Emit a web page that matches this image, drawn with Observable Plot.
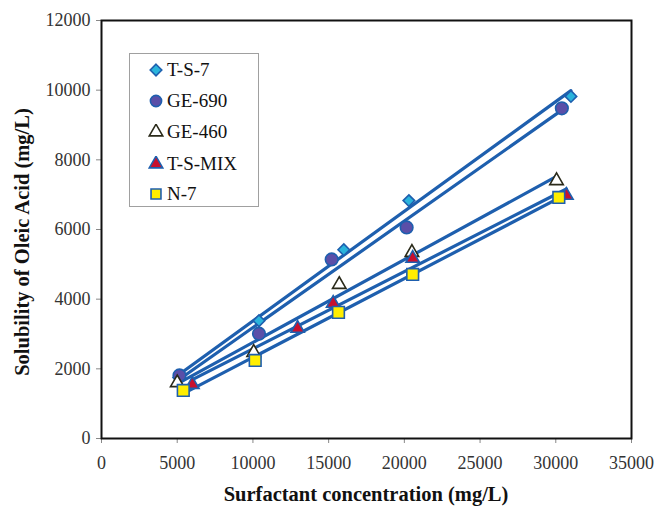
<!DOCTYPE html>
<html>
<head>
<meta charset="utf-8">
<script src="https://cdn.jsdelivr.net/npm/d3@7"></script>
<script src="https://cdn.jsdelivr.net/npm/@observablehq/plot@0.6"></script>
<style>
  html, body { margin: 0; padding: 0; background: #fff; }
  #wrap { position: relative; width: 655px; height: 506px; font-family: "Liberation Serif", "Times New Roman", serif; }
  #legend { position: absolute; left: 129px; top: 53px; width: 130px; height: 154px; border: 1px solid #a0a0a0; background: #fff; box-sizing: border-box; }
  .entry { position: absolute; left: 0; height: 22px; display: flex; align-items: center; font-size: 19px; color: #111; white-space: nowrap; }
  .entry svg { margin-left: 18px; margin-right: 3px; }
  .title { position: absolute; font-weight: bold; font-size: 20.5px; color: #111; white-space: nowrap; line-height: 1; }
</style>
</head>
<body>
<div id="wrap"></div>
<script>
const seriesNames = ["T-S-7", "GE-690", "GE-460", "T-S-MIX", "N-7"];
const xTS7 = [5100, 10400, 16000, 20300, 31000];
const yTS7 = [1750, 3380, 5420, 6830, 9820];
const xGE690 = [5150, 10400, 15200, 20150, 30400];
const yGE690 = [1810, 3010, 5140, 6060, 9480];
const xGE460 = [5000, 10050, 15700, 20500, 30050];
const yGE460 = [1600, 2470, 4420, 5340, 7400];
const xTSMIX = [6000, 12950, 15300, 20550, 30700];
const yTSMIX = [1550, 3160, 3880, 5170, 6980];
const xN7 = [5400, 10150, 15650, 20550, 30200];
const yN7 = [1380, 2240, 3620, 4710, 6920];
const xTicks = [0, 5000, 10000, 15000, 20000, 25000, 30000, 35000];
const yTicks = [0, 2000, 4000, 6000, 8000, 10000, 12000];

const lineColor = "#1e5fae";
const styles = {
  "T-S-7":   {symbol: "diamond2", fill: "#2ab4dc", stroke: lineColor, r: 5.2},
  "GE-690":  {symbol: "circle",   fill: "#5a4fa8", stroke: lineColor, r: 6.3},
  "GE-460":  {symbol: "triangle", fill: "#ffffff", stroke: "#2a2a1a", r: 5},
  "T-S-MIX": {symbol: "triangle", fill: "#c8102e", stroke: lineColor, r: 5},
  "N-7":     {symbol: "square",   fill: "#ffee00", stroke: lineColor, r: 6.6}
};

const xs = [xTS7, xGE690, xGE460, xTSMIX, xN7];
const ys = [yTS7, yGE690, yGE460, yTSMIX, yN7];
const data = [];
seriesNames.forEach((s, i) => xs[i].forEach((x, j) => data.push({series: s, x, y: ys[i][j]})));

const fmt = d3.format("d");
const marks = [
  Plot.axisX({ticks: xTicks, tickFormat: fmt, tickSize: 5, tickPadding: 13, fontSize: 18, label: null, stroke: "#888", color: "#333"}),
  Plot.axisY({ticks: yTicks, tickFormat: fmt, tickSize: 5, tickPadding: 6, fontSize: 18, label: null, stroke: "#888", color: "#333"}),
  Plot.linearRegressionY(data, {x: "x", y: "y", z: "series", stroke: lineColor, strokeWidth: 3.2, ci: 0})
];
seriesNames.forEach(s => {
  const st = styles[s];
  marks.push(Plot.dot(data.filter(d => d.series === s), {x: "x", y: "y", symbol: () => st.symbol, r: st.r, fill: st.fill, stroke: st.stroke, strokeWidth: 1.6}));
});
marks.push(Plot.frame({stroke: "#111", strokeWidth: 2}));

const chart = Plot.plot({
  width: 655, height: 506,
  marginLeft: 101, marginRight: 24, marginTop: 20, marginBottom: 68,
  style: {fontFamily: "Liberation Serif, Times New Roman, serif", fontSize: "18px", background: "#fff"},
  x: {domain: [0, 35000]},
  y: {domain: [0, 12000]},
  symbol: {type: "identity"},
  marks
});
const wrap = document.getElementById("wrap");
wrap.appendChild(chart);

// axis titles
const xt = document.createElement("div");
xt.className = "title";
xt.textContent = "Surfactant concentration (mg/L)";
xt.style.left = "366px"; xt.style.top = "494px"; xt.style.transform = "translate(-50%,-50%)";
wrap.appendChild(xt);
const yt = document.createElement("div");
yt.className = "title";
yt.textContent = "Solubility of Oleic Acid (mg/L)";
yt.style.left = "22px"; yt.style.top = "242px"; yt.style.transform = "translate(-50%,-50%) rotate(-90deg)";
wrap.appendChild(yt);

// legend
const leg = document.createElement("div");
leg.id = "legend";
const tops = [5, 36, 67, 99, 129];
seriesNames.forEach((s, i) => {
  const st = styles[s];
  const e = document.createElement("div");
  e.className = "entry";
  e.style.top = tops[i] + "px";
  const sym = {diamond2: d3.symbolDiamond2, circle: d3.symbolCircle, triangle: d3.symbolTriangle, square: d3.symbolSquare}[st.symbol];
  const rr = Math.min(st.r, 5.6);
  const path = d3.symbol(sym, Math.PI * rr * rr)();
  e.innerHTML = `<svg width="16" height="16" viewBox="-8 -8 16 16"><path d="${path}" fill="${st.fill}" stroke="${st.stroke}" stroke-width="1.6"/></svg><span>${s}</span>`;
  leg.appendChild(e);
});
wrap.appendChild(leg);
</script>
</body>
</html>
